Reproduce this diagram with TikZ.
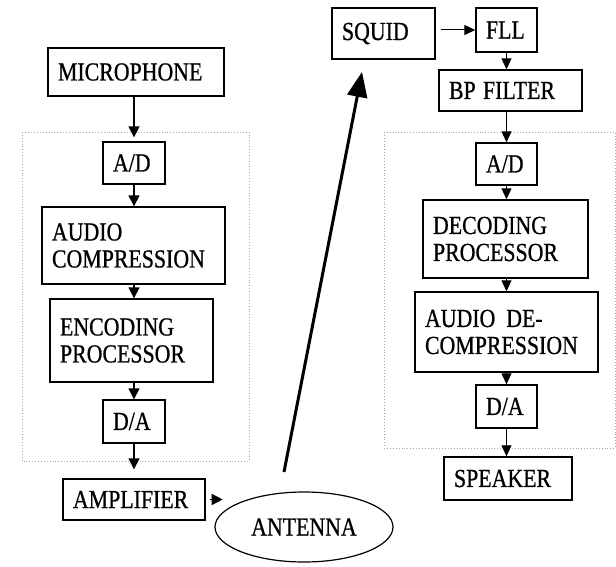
\documentclass[tikz,border=0pt]{standalone}
\usepackage{fontspec}
\setmainfont[FakeBold=0.8]{Liberation Serif}
\usetikzlibrary{arrows.meta,shapes.geometric}
\newcommand{\sq}[1]{\scalebox{0.84}[1]{#1}}
\begin{document}
\begin{tikzpicture}[x=1pt,y=-1pt,
  box/.style={draw, line width=1.4pt, inner xsep=10pt, inner ysep=0pt, align=left,
    font=\fontsize{26}{27}\selectfont},
  grp/.style={draw=gray!70, dotted, line width=0.9pt},
  arrL/.style={line width=1.6pt, -{Triangle[length=11pt,width=11pt]}},
  arrR/.style={line width=1pt, -{Triangle[length=11pt,width=10pt]}},
  big/.style={line width=3pt, -{Triangle[length=25pt,width=20pt]}}]
\useasboundingbox (0,0) rectangle (616,567);
\fill[white] (0,0) rectangle (616,567);
% groups
\draw[grp] (22,132) rectangle (249,461);
\draw[grp] (384,132) rectangle (615,448);
% left column
\node[box, text width=156pt, minimum height=48pt] (mic) at (136,72) {\sq{MICROPHONE}};
\node[box, text width=42pt, minimum height=42pt] (adl) at (134,163) {\sq{A/D}};
\node[box, text width=163pt, minimum height=77pt] (acomp) at (133.5,245.5) {\sq{AUDIO}\\\sq{COMPRESSION}};
\node[box, text width=143pt, minimum height=83pt] (enc) at (131.5,340.5) {\sq{ENCODING}\\\sq{PROCESSOR}};
\node[box, text width=42pt, minimum height=43pt] (dal) at (134,421.5) {\sq{D/A}};
\node[box, text width=122pt, minimum height=41pt] (amp) at (134,499.5) {\sq{AMPLIFIER}};
\node[ellipse, draw, line width=1.2pt, minimum width=178pt, minimum height=70pt, inner sep=0pt,
  font=\fontsize{26}{27}\selectfont] (ant) at (304,527) {\sq{ANTENNA}};
% right column
\node[box, text width=83pt, minimum height=51pt] (squid) at (383.5,33.5) {\sq{SQUID}};
\node[box, text width=41pt, minimum height=44pt] (fll) at (506.5,30) {\sq{FLL}};
\node[box, text width=123pt, minimum height=41pt] (bp) at (510.5,90.5) {\sq{BP FILTER}};
\node[box, text width=41pt, minimum height=42pt] (adr) at (506.5,164) {\sq{A/D}};
\node[box, text width=145pt, minimum height=78pt] (dec) at (505.5,239) {\sq{DECODING}\\\sq{PROCESSOR}};
\node[box, text width=163pt, minimum height=80pt] (adec) at (506.5,332) {\sq{AUDIO\enspace DE-}\\\sq{COMPRESSION}};
\node[box, text width=41pt, minimum height=43pt] (dar) at (506.5,406.5) {\sq{D/A}};
\node[box, text width=108pt, minimum height=43pt] (spk) at (508,478.5) {\sq{SPEAKER}};
% left arrows
\draw[arrL, shorten >=4pt] (mic.south -| adl) -- (adl.north);
\draw[arrL] (adl.south) -- (adl.south |- acomp.north);
\draw[arrL] (adl.south |- acomp.south) -- (adl.south |- enc.north);
\draw[arrL] (adl.south |- enc.south) -- (dal.north);
\draw[arrL, shorten >=9pt] (dal.south) -- (dal.south |- amp.north);
\draw[arrL] ([xshift=4pt]amp.east) -- ([xshift=17pt]amp.east);
% big arrow
\coordinate (tx) at (284,472);
\coordinate (rx) at (362,72);
\draw[big] (tx) -- (rx);
% right arrows
\draw[arrR] ([xshift=5pt]squid.east |- fll) -- (fll.west);
\draw[arrR] (fll.south) -- (fll.south |- bp.north);
\draw[arrR] (bp.south -| adr) -- (adr.north);
\draw[arrR] (adr.south) -- (adr.south |- dec.north);
\draw[arrR] (adr.south |- dec.south) -- (adr.south |- adec.north);
\draw[arrR] (adr.south |- adec.south) -- (dar.north);
\draw[arrR] (dar.south) -- (dar.south |- spk.north);
\end{tikzpicture}
\end{document}
